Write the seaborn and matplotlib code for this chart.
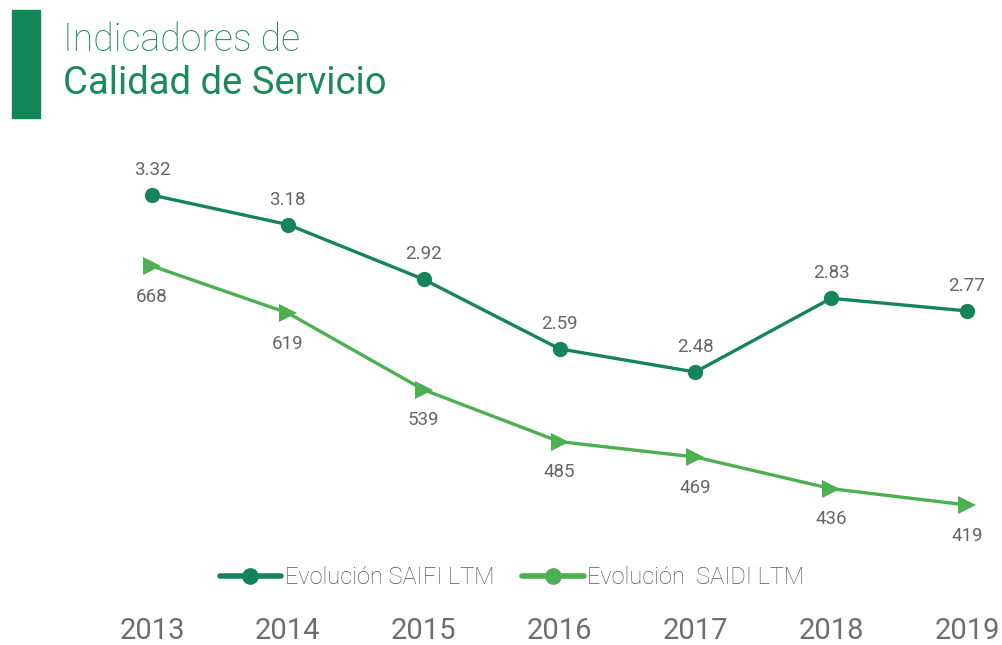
import matplotlib
matplotlib.use("Agg")
import matplotlib.pyplot as plt
from matplotlib.lines import Line2D
from matplotlib.patches import Rectangle
import seaborn as sns
import pandas as pd

# --- data ---
years = [2013, 2014, 2015, 2016, 2017, 2018, 2019]
saifi = [3.32, 3.18, 2.92, 2.59, 2.48, 2.83, 2.77]
saidi = [668, 619, 539, 485, 469, 436, 419]
saifi_labels = ["3.32", "3.18", "2.92", "2.59", "2.48", "2.83", "2.77"]
saidi_labels = ["668", "619", "539", "485", "469", "436", "419"]
legend_labels = ["Evolución SAIFI LTM", "Evolución  SAIDI LTM"]

dark_green = "#16845a"
light_green = "#4caf50"
text_gray = "#666666"

sns.set_style("white")
plt.rcParams["font.family"] = ["Roboto", "DejaVu Sans"]

df = pd.DataFrame({"year": years, "saifi": saifi, "saidi": saidi})

fig = plt.figure(figsize=(10.02, 6.45), dpi=100)
ax = fig.add_axes([100 / 1002, 32 / 645, 900 / 1002, 463 / 645])
ax2 = ax.twinx()

sns.lineplot(data=df, x="year", y="saifi", ax=ax, color=dark_green, linewidth=2.4,
             marker="o", markersize=11, markeredgewidth=0, legend=False)
sns.lineplot(data=df, x="year", y="saidi", ax=ax2, color=light_green, linewidth=2.4,
             marker=">", markersize=13, markeredgewidth=0, legend=False)

ax.set_xlim(2012.617, 2019.243)
ax.set_ylim(1.336, 3.534)
ax2.set_ylim(306.5, 788.8)

for x, y, lab in zip(years, saifi, saifi_labels):
    ax.annotate(lab, (x, y), xytext=(0, 18), textcoords="offset points",
                ha="center", va="center", fontsize=13.5, color=text_gray)
for x, y, lab in zip(years, saidi, saidi_labels):
    ax2.annotate(lab, (x, y), xytext=(0, -22), textcoords="offset points",
                 ha="center", va="center", fontsize=13.5, color=text_gray)

for a in (ax, ax2):
    for s in a.spines.values():
        s.set_visible(False)
    a.set_xlabel("")
    a.set_ylabel("")
    a.set_yticks([])
ax.set_xticks(years)
ax.set_xticklabels([str(y) for y in years], fontsize=21, color="#6e6e6e")
ax.tick_params(axis="x", length=0, pad=3)

handles = [
    Line2D([], [], color=dark_green, linewidth=4, marker="o", markersize=11),
    Line2D([], [], color=light_green, linewidth=4, marker="o", markersize=11),
]
fig.legend(handles, legend_labels, loc="center", bbox_to_anchor=(512 / 1002, 1 - 578 / 645),
           ncol=2, frameon=False, handlelength=2.6, handletextpad=0.15, columnspacing=1.2,
           prop={"size": 17, "weight": "light"}, labelcolor="#555555")

# title block
fig.patches.append(Rectangle((12 / 1002, 1 - 118 / 645), 28 / 1002, 108 / 645,
                             transform=fig.transFigure, color="#12875a"))
fig.text(63 / 1002, 1 - 40 / 645, "Indicadores de", fontsize=27, color="#1b8a5a",
         fontweight="light", va="center", ha="left")
fig.text(63 / 1002, 1 - 83 / 645, "Calidad de Servicio", fontsize=27.5, color="#1b8a5a",
         va="center", ha="left")

fig.savefig("out.png", dpi=100)
